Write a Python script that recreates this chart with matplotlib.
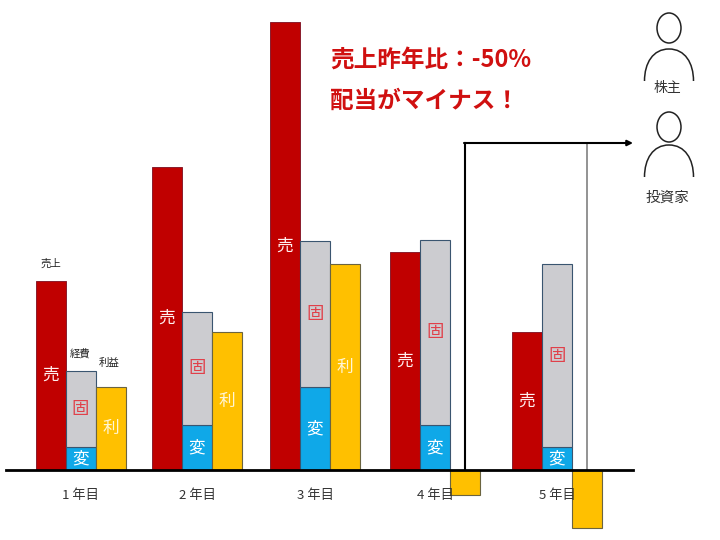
"""Sales, expenses and profit over five years, with the investor callout."""

import matplotlib
matplotlib.use("Agg")
import matplotlib.pyplot as plt
from matplotlib.patches import Ellipse, PathPatch
from matplotlib.path import Path

plt.rcParams['font.family'] = ['Noto Sans CJK JP', 'DejaVu Sans']

years = ["1 年目", "2 年目", "3 年目", "4 年目", "5 年目"]
sales = [189, 303, 448, 218, 138]
variable_cost = [23, 45, 83, 45, 23]
fixed_cost = [76, 113, 146, 185, 183]
profit = [83, 138, 206, -25, -58]

RED = "#C00000"
GREY = "#CCCCD0"
BLUE = "#0FA8E8"
GOLD = "#FFC000"
EDGE = "#3A5570"

group_x = [80.5, 197, 315, 435, 557]
bar_w = 30


def person(ax, head_y, top, bottom):
    """Draw the outline of a person, y values given in image pixels."""
    cx = 669
    ax.add_patch(Ellipse((cx, 470 - head_y), 24, 30, fill=False, ec="#222222", lw=1.1))
    verts = [(cx - 24.5, 470 - bottom), (cx - 24.5, 470 - top - 14), (cx - 16, 470 - top),
             (cx, 470 - top), (cx + 16, 470 - top), (cx + 24.5, 470 - top - 14),
             (cx + 24.5, 470 - bottom)]
    codes = [Path.MOVETO, Path.CURVE4, Path.CURVE4, Path.CURVE4, Path.CURVE4, Path.CURVE4, Path.CURVE4]
    ax.add_patch(PathPatch(Path(verts, codes), fill=False, ec="#222222", lw=1.1))


fig = plt.figure(figsize=(7.2, 5.4), dpi=100)
ax = fig.add_axes([0, 0, 1, 1])
ax.set_xlim(0, 720)
ax.set_ylim(-70, 470)
ax.axis("off")

sales_x = [x - bar_w for x in group_x]
profit_x = [x + bar_w for x in group_x]

ax.bar(sales_x, sales, bar_w, color=RED, edgecolor="#8A1C2C", linewidth=0.7, zorder=2)
ax.bar(group_x, variable_cost, bar_w, color=BLUE, edgecolor=EDGE, linewidth=0.8, zorder=2)
ax.bar(group_x, fixed_cost, bar_w, bottom=variable_cost, color=GREY, edgecolor=EDGE, linewidth=0.8, zorder=2)
ax.bar(profit_x, profit, bar_w, color=GOLD, edgecolor="#6B6440", linewidth=0.8, zorder=2)

for i, x in enumerate(group_x):
    ax.text(sales_x[i], sales[i] / 2, "売", color="#FFF0F0", fontsize=12, ha="center", va="center", zorder=4)
    ax.text(x, variable_cost[i] / 2, "変", color="white", fontsize=12, ha="center", va="center", zorder=4)
    ax.text(x, variable_cost[i] + fixed_cost[i] / 2, "固", color="#E0404A", fontsize=12.5,
            ha="center", va="center", zorder=4)
    if profit[i] > 0:
        ax.text(profit_x[i], profit[i] / 2, "利", color="#FFF6D8", fontsize=12, ha="center", va="center", zorder=4)
    ax.text(x, -26, years[i], color="#333333", fontsize=9.5, ha="center", va="center", zorder=4)

# baseline and the callout lines
ax.plot([6, 633], [0, 0], color="black", lw=2, zorder=3)
ax.plot([587, 587], [0, 327], color="#808080", lw=1.2, zorder=1)
ax.plot([465, 465], [0, 327], color="black", lw=1.5, zorder=1)
ax.annotate("", xy=(633, 327), xytext=(464, 327),
            arrowprops=dict(arrowstyle="-|>", color="black", lw=1.5, mutation_scale=8,
                            shrinkA=0, shrinkB=0))

ax.text(50.5, 206, "売上", color="#222222", fontsize=7.5, ha="center", va="center")
ax.text(80, 116, "経費", color="#222222", fontsize=7.5, ha="center", va="center")
ax.text(109, 107, "利益", color="#222222", fontsize=7.5, ha="center", va="center")

ax.text(330, 410, "売上昨年比：-50%", color="#D01010", fontsize=17, fontweight="bold", ha="left", va="center")
ax.text(330, 369, "配当がマイナス！", color="#D01010", fontsize=17, fontweight="bold", ha="left", va="center")

person(ax, 28, 49, 81)
person(ax, 127, 145, 177)
ax.text(667, 382, "株主", color="#333333", fontsize=10, ha="center", va="center")
ax.text(667, 272, "投資家", color="#333333", fontsize=10.5, ha="center", va="center")

plt.savefig("out.png", dpi=100)
plt.close()
